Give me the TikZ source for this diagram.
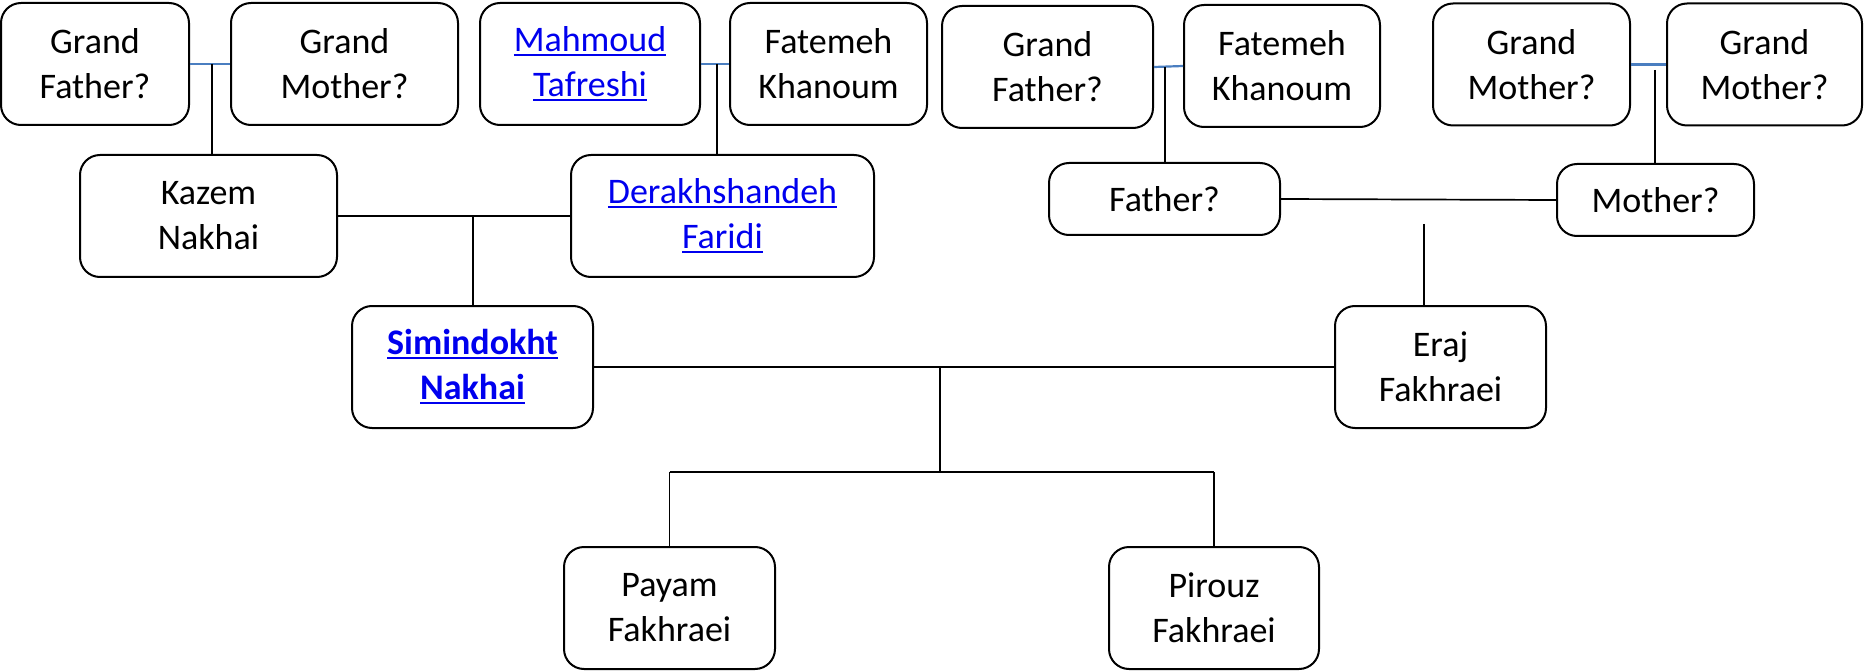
\documentclass[tikz,border=0pt]{standalone}
\usepackage{fontspec}
\setmainfont{Carlito}
\definecolor{spouseblue}{RGB}{74,126,192}
\definecolor{linkblue}{RGB}{0,0,238}
\newcommand{\lnk}[1]{\setbox0\hbox{#1}\rlap{\rule[-4.5pt]{\wd0}{2.5pt}}\box0}
\begin{document}
\begin{tikzpicture}[x=1pt,y=-1pt,
  person/.style={draw, line width=2pt, rounded corners=20pt, align=center, inner sep=0pt,
    minimum height=122pt, font=\fontsize{36}{45}\selectfont},
  link/.style={text=linkblue},
  conn/.style={line width=1.7pt, black},
  couple/.style={line width=2.4pt, black},
  spouse/.style={line width=2.2pt, spouseblue}]
\useasboundingbox (0,0) rectangle (1864,671);
% top row
\node[person, minimum width=188pt] (gf1) at (95,64) {Grand\\Father?};
\node[person, minimum width=227pt] (gm1) at (344.5,64) {Grand\\Mother?};
\node[person, minimum width=220pt, link] (mah) at (590,64) {\lnk{Mahmoud}\\\lnk{Tafreshi}};
\node[person, minimum width=197pt] (fat1) at (828.5,64) {Fatemeh\\Khanoum};
\node[person, minimum width=211pt] (gf2) at (1047.5,67) {Grand\\Father?};
\node[person, minimum width=196pt] (fat2) at (1282,66) {Fatemeh\\Khanoum};
\node[person, minimum width=197pt] (gm2) at (1531.5,64.5) {Grand\\Mother?};
\node[person, minimum width=195pt] (gm3) at (1764.5,64.5) {Grand\\Mother?};
% second row
\node[person, minimum width=257pt] (kaz) at (208.5,216) {Kazem\\Nakhai};
\node[person, minimum width=303pt, link] (der) at (722.5,216) {\lnk{Derakhshandeh}\\\lnk{Faridi}};
\node[person, minimum width=231pt, minimum height=72pt] (fa) at (1164.5,199) {Father?};
\node[person, minimum width=197pt, minimum height=72pt] (mo) at (1655.5,200) {Mother?};
% third row
\node[person, minimum width=241pt, link, font=\fontsize{36}{45}\selectfont\bfseries] (sim) at (472.5,367) {\lnk{Simindokht}\\\lnk{Nakhai}};
\node[person, minimum width=211pt] (era) at (1440.5,367) {Eraj\\Fakhraei};
% children
\node[person, minimum width=211pt] (pay) at (669.5,608) {Payam\\Fakhraei};
\node[person, minimum width=210pt] (pir) at (1214,608) {Pirouz\\Fakhraei};
% junction points
\coordinate (j1) at (212,64);
\coordinate (j2) at (717,64);
\coordinate (j3) at (473,216);
\coordinate (j4) at (1165,67);
\coordinate (j5) at (1655,70);
\coordinate (j6) at (1424,224);
\coordinate (j7) at (940,367);
\coordinate (j8) at (940,472);
% spouse lines (blue)
\draw[spouse] (gf1.east) -- (gm1.west);
\draw[spouse] (mah.east) -- (fat1.west);
\draw[spouse] (gf2.east) -- (fat2.west);
\draw[spouse] (gm2.east) -- (gm3.west);
% descent lines
\draw[conn] (j1) -- (kaz.north -| j1);
\draw[conn] (j2) -- (der.north -| j2);
\draw[conn] (kaz.east) -- (der.west);
\draw[conn] (j3) -- (sim.north -| j3);
\draw[conn] (j4) -- (fa.north -| j4);
\draw[conn] (j5) -- (mo.north -| j5);
\draw[conn] (fa.east) -- (mo.west);
\draw[conn] (j6) -- (era.north -| j6);
\draw[couple] (sim.east) -- (era.west);
\draw[conn] (j7) -- (j8);
\draw[conn] (pay.north |- j8) -- (pir.north |- j8);
\draw[conn] (pay.north |- j8) -- (pay.north);
\draw[conn] (pir.north |- j8) -- (pir.north);
\end{tikzpicture}
\end{document}
